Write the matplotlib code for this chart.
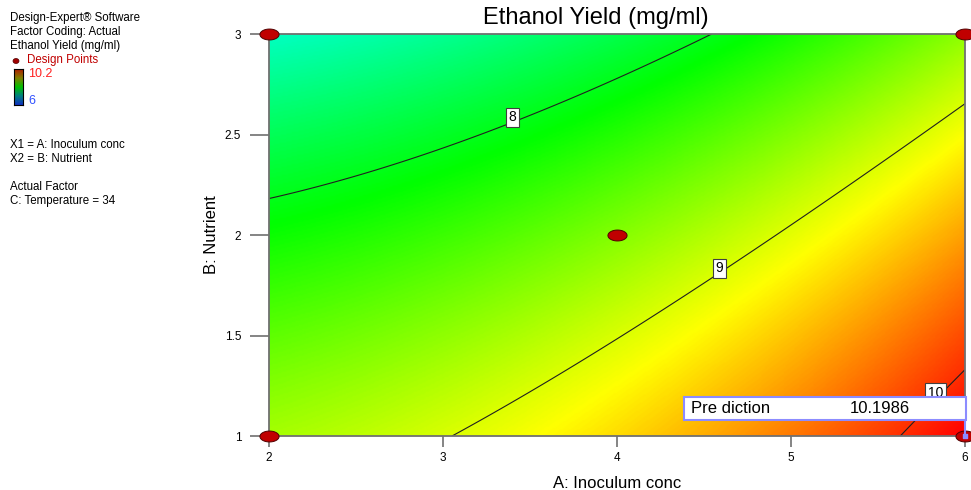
import numpy as np
import matplotlib
matplotlib.use("Agg")
import matplotlib.pyplot as plt
from matplotlib.colors import LinearSegmentedColormap
from matplotlib.path import Path
from matplotlib.patches import Rectangle, Ellipse

plt.rcParams['font.family'] = ['Liberation Sans', 'DejaVu Sans']

# ---------------- data ----------------
title = "Ethanol Yield (mg/ml)"
x_label = "A: Inoculum conc"
y_label = "B: Nutrient"
x_ticks = [2, 3, 4, 5, 6]
x_tick_labels = ["2", "3", "4", "5", "6"]
y_ticks = [1, 1.5, 2, 2.5, 3]
y_tick_labels = ["1", "1.5", "2", "2.5", "3"]
contour_levels = [8, 9, 10]

# points (A, B)
c8_A = [2.0, 2.52, 3.10, 3.40, 3.86, 4.25, 4.57]
c8_B = [2.18, 2.29, 2.46, 2.58, 2.73, 2.88, 3.0]
c9_A = [3.03, 3.56, 3.98, 4.57, 4.96, 5.65, 6.0]
c9_B = [1.0, 1.25, 1.46, 1.80, 2.03, 2.43, 2.66]
c10_A = [5.65, 5.83, 6.0]
c10_B = [1.0, 1.21, 1.32]

pred_A, pred_B, pred_val = 6.0, 1.0, 10.1986
design_A = [2, 6, 4, 2, 6]
design_B = [3, 3, 2, 1, 1]
color_min, color_max = 6.0, 10.2
label_pos = [(3.40, 2.585), (4.59, 1.835), (5.83, 1.215)]

side_lines = ["Design-Expert\u00ae Software", "Factor Coding: Actual", "Ethanol Yield (mg/ml)"]
side_lines2 = ["X1 = A: Inoculum conc", "X2 = B: Nutrient"]
side_lines3 = ["Actual Factor", "C: Temperature = 34"]

# ---------------- quadratic response-surface fit ----------------
A_obs = np.array(c8_A + c9_A + c10_A + [pred_A] * 5)
B_obs = np.array(c8_B + c9_B + c10_B + [pred_B] * 5)
Y_obs = np.array([8] * len(c8_A) + [9] * len(c9_A) + [10] * len(c10_A) + [pred_val] * 5)


def design_matrix(A, B):
    a = (np.asarray(A) - 4.0) / 2.0
    b = np.asarray(B) - 2.0
    return np.stack([np.ones_like(a), a, b, a * b, a * a, b * b], axis=-1)


coef, *_ = np.linalg.lstsq(design_matrix(A_obs, B_obs), Y_obs, rcond=None)

Ag = np.linspace(2, 6, 400)
Bg = np.linspace(1, 3, 300)
AA, BB = np.meshgrid(Ag, Bg)
ZZ = design_matrix(AA, BB) @ coef

cmap = LinearSegmentedColormap.from_list(
    "de", ["#0000ff", "#00ffff", "#00ff00", "#ffff00", "#ff0000"])

# ---------------- figure ----------------
W, H = 971, 490
fig = plt.figure(figsize=(W / 100, H / 100), dpi=100)
L, R, T, Bt = 269, 965, 34, 436
ax = fig.add_axes([L / W, 1 - Bt / H, (R - L) / W, (Bt - T) / H])

ax.imshow(ZZ, extent=[2, 6, 1, 3], origin="lower", aspect="auto", cmap=cmap,
          vmin=color_min, vmax=color_max, interpolation="bilinear")
cs = ax.contour(AA, BB, ZZ, levels=contour_levels, colors="#202020", linewidths=0.8)

for (la, lb), lev in zip(label_pos, contour_levels):
    ax.text(la, lb, str(lev), ha="center", va="center", fontsize=10, zorder=5,
            bbox=dict(boxstyle="square,pad=0.18", fc="white", ec="#404040", lw=0.8))

# design points as ellipses
t = np.linspace(0, 2 * np.pi, 60)
ell = Path(np.column_stack([np.cos(t), 0.57 * np.sin(t)]))
ax.scatter(design_A, design_B, marker=ell, s=190, c="#c00000", edgecolors="#500000",
           linewidths=0.7, zorder=6, clip_on=False)

# prediction flag
pa0 = 2 + (684 - L) / 174.0
pb0 = 1 + (Bt - 420) / 200.5
pb1 = 1 + (Bt - 397) / 200.5
ax.add_patch(Rectangle((pa0, pb0), pred_A - pa0 + 0.005, pb1 - pb0, fc="white",
                       ec="#8c8cff", lw=1.5, zorder=7, clip_on=False))
ax.plot([pred_A, pred_A], [pred_B, pb0], color="#8c8cff", lw=1.5, zorder=7, clip_on=False)
ax.scatter([pred_A], [pred_B], s=10, c="#8c8cff", marker="s", zorder=8, clip_on=False)
ax.text(pa0 + 0.04, (pb0 + pb1) / 2, "Pre diction", fontsize=12, va="center", ha="left", zorder=8)
ax.text(5.34, (pb0 + pb1) / 2, f"{pred_val:.4f}", fontsize=12, va="center", ha="left", zorder=8)

ax.set_xlim(2, 6)
ax.set_ylim(1, 3)
ax.set_xticks(x_ticks)
ax.set_xticklabels(x_tick_labels, fontsize=8.5)
ax.set_yticks(y_ticks)
ax.set_yticklabels(y_tick_labels, fontsize=8.5)
ax.tick_params(axis="x", length=8, width=1.2, color="#707070", pad=3.5)
ax.tick_params(axis="y", length=14, width=1.2, color="#707070", pad=6)
for s in ax.spines.values():
    s.set_color("#707070")
    s.set_linewidth(1.3)
ax.set_xlabel(x_label, fontsize=12, labelpad=9)
ax.set_ylabel(y_label, fontsize=12, labelpad=4)

fig.text(596 / W, 1 - 18 / H, title, fontsize=17, ha="center", va="center")


# side panel
def ftxt(x, y, s, **kw):
    fig.text(x / W, 1 - y / H, s, va="center", ha="left", fontsize=8.3, **kw)


for i, s in enumerate(side_lines):
    ftxt(10, 17.5 + 14.3 * i, s)
fig.patches.append(Ellipse((16 / W, 1 - 61 / H), 6 / W, 5 / H,
                   transform=fig.transFigure, fc="#a00000", ec="#500000", lw=0.5))
ftxt(27, 60.5, "Design Points", color="#c00000")
cax = fig.add_axes([14 / W, 1 - 105 / H, 9 / W, 36 / H])
grad = np.linspace(0, 1, 100).reshape(-1, 1)
dark = LinearSegmentedColormap.from_list(
    "dk", ["#1030c0", "#008080", "#00c000", "#808000", "#b02000"])
cax.imshow(grad, origin="lower", aspect="auto", cmap=dark)
cax.set_xticks([])
cax.set_yticks([])
for s in cax.spines.values():
    s.set_color("black")
    s.set_linewidth(0.8)
fig.text(28 / W, 1 - 74 / H, "10.2", color="#ff2020", fontsize=9, va="center", ha="left")
fig.text(28 / W, 1 - 101 / H, "6", color="#3050ff", fontsize=9, va="center", ha="left")
for i, s in enumerate(side_lines2):
    ftxt(10, 145 + 13.8 * i, s)
for i, s in enumerate(side_lines3):
    ftxt(10, 187 + 14 * i, s)

fig.savefig("out.png", dpi=100)
